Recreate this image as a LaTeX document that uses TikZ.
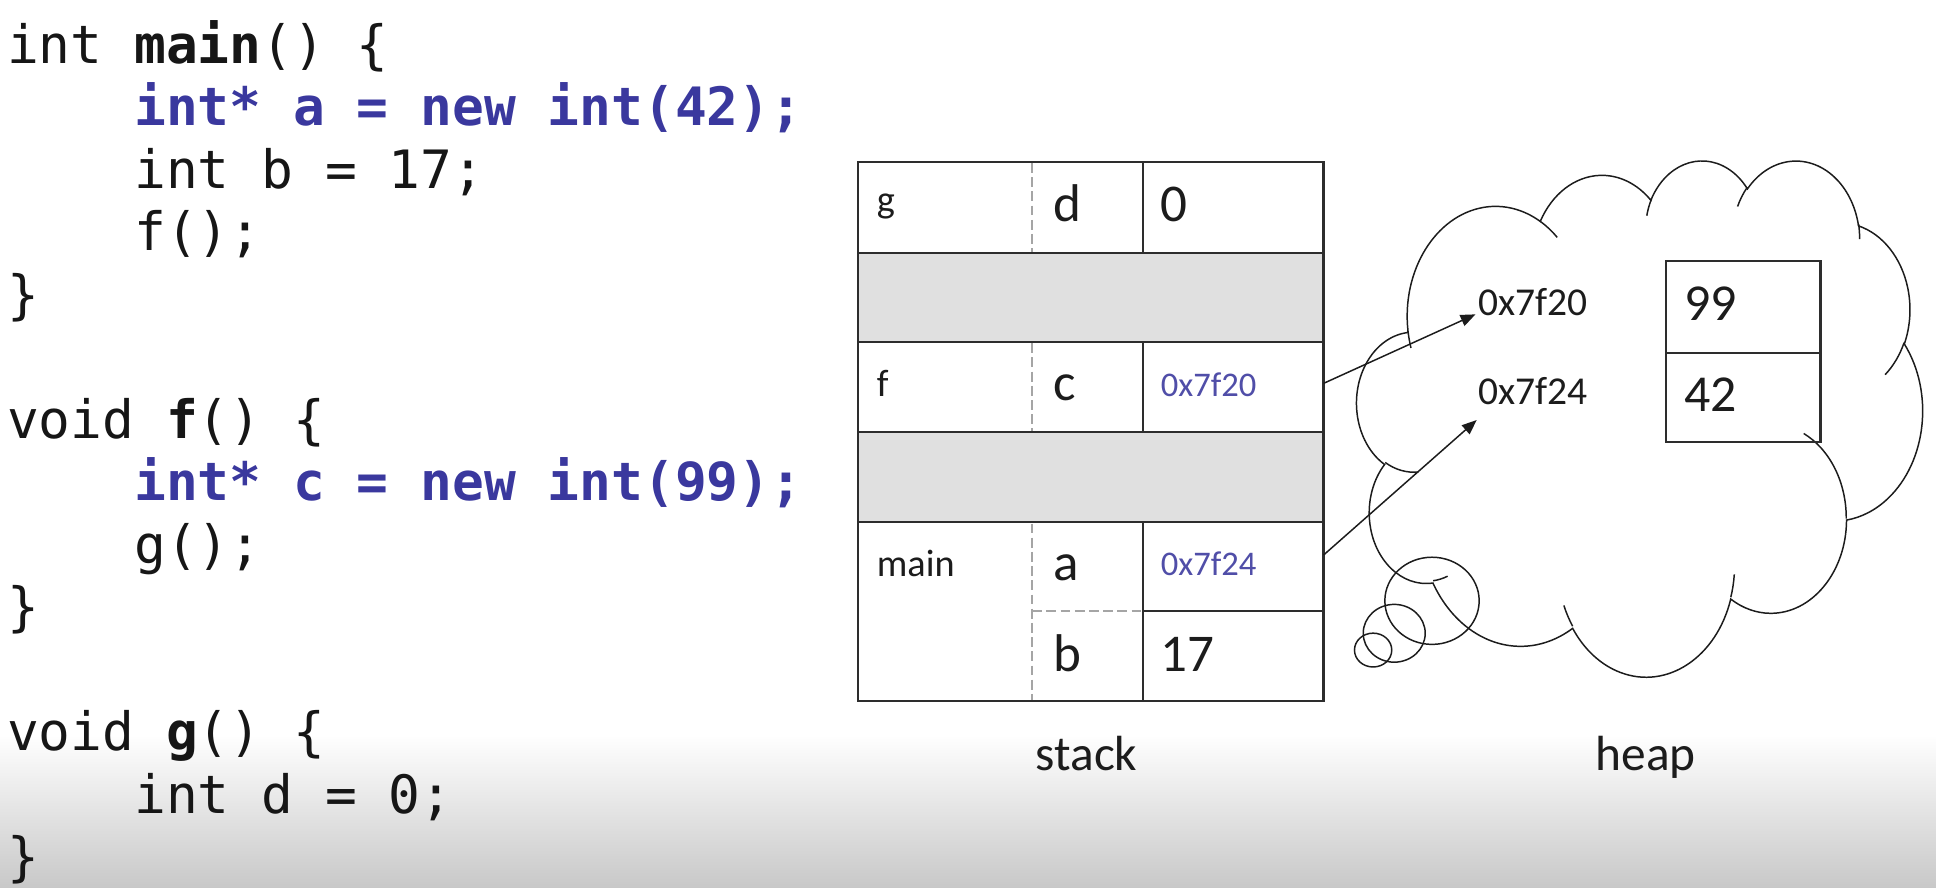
\documentclass[tikz,border=0pt]{standalone}
\usepackage{fontspec}
\newfontfamily\codefont{DejaVu Sans Mono}
\newfontfamily\calfont{Carlito}
\usetikzlibrary{arrows.meta}
\definecolor{codeblue}{RGB}{58,56,158}
\definecolor{codeblack}{RGB}{22,22,22}
\definecolor{addrblue}{RGB}{80,78,168}
\definecolor{inkc}{RGB}{28,28,28}
\definecolor{linec}{RGB}{45,45,45}
\definecolor{gapgray}{RGB}{224,224,224}
\definecolor{dashgray}{RGB}{165,165,165}
\definecolor{bgmid}{RGB}{240,240,240}
\definecolor{bgbot}{RGB}{200,200,200}
% cloud frame (OOXML cloud; coordinates given in units of 10 of the 43200 grid)
\def\cx{1099}\def\cy{129}\def\sx{0.106019}\def\sy{0.096759}
\newcommand\ooprep[5]{%
  \pgfmathsetmacro\ooA{atan2(#2*sin(#4),#3*cos(#4))}%
  \pgfmathsetmacro\ooB{atan2(#2*sin(#4+#5),#3*cos(#4+#5))}%
  \pgfmathsetmacro\ooD{0-Mod((\ooB)-(\ooA),360)}%
  \pgfmathsetmacro\ooS{0-(\ooA)}%
  \pgfmathsetmacro\ooRX{#2*\sx/10}%
  \pgfmathsetmacro\ooRY{#3*\sy/10}%
  \edef\ootmp{\noexpand\tikzset{oo#1/.style={start angle=\ooS,delta angle=\ooD,x radius=\ooRX pt,y radius=\ooRY pt}}}%
  \ootmp}
\ooprep{A}{6753}{9190}{-190.4875}{123.7805}
\ooprep{B}{5333}{7267}{-144.1024}{89.9452}
\ooprep{C}{4365}{5945}{-145.8079}{99.7230}
\ooprep{D}{4857}{6595}{-130.9861}{117.2417}
\ooprep{E}{5333}{7273}{-78.7089}{109.0269}
\ooprep{F}{6775}{9220}{-46.2673}{130.2690}
\ooprep{G}{5785}{7867}{0.6250}{114.0333}
\ooprep{H}{6752}{9215}{22.4516}{115.1726}
\ooprep{I}{7720}{10543}{66.2426}{75.7110}
\ooprep{J}{4360}{5918}{-274.9421}{146.7356}
\ooprep{K}{4345}{5945}{-246.8285}{152.5189}
\ooprep{a}{4345}{5945}{86.7420}{26.4295}
\ooprep{b}{4360}{5918}{73.6105}{11.4475}
\ooprep{c}{6752}{9215}{137.6242}{14.0811}
\ooprep{d}{6752}{9215}{6.4533}{15.9984}
\ooprep{e}{5785}{7867}{-70.2924}{70.9174}
\ooprep{f}{5333}{7273}{30.3180}{27.7515}
\ooprep{g}{4857}{6595}{-13.7443}{14.8589}
\ooprep{h}{4857}{6595}{-149.1815}{18.1954}
\ooprep{i}{4365}{5945}{-163.4943}{17.6864}
\ooprep{j}{6753}{9190}{-66.7070}{12.3194}
\ooprep{k}{6753}{9190}{157.6544}{11.8582}
\tikzset{
  code/.style={anchor=base west, inner sep=0pt, text=codeblack, font=\codefont\fontsize{42.8}{50}\selectfont},
  bcode/.style={code, text=codeblue, font=\codefont\bfseries\fontsize{42.8}{50}\selectfont},
  cellbox/.style={draw=linec, line width=1.8pt, inner sep=0pt, outer sep=0pt, anchor=north west},
  gapbox/.style={cellbox, fill=gapgray},
  txt/.style={anchor=base west, inner sep=0pt, text=inkc},
  bigtxt/.style={txt, font=\calfont\fontsize{43}{43}\selectfont},
  smalltxt/.style={txt, font=\calfont\fontsize{31}{31}\selectfont},
  saddr/.style={txt, text=addrblue, font=\calfont\fontsize{28}{28}\selectfont},
  haddr/.style={txt, font=\calfont\fontsize{32}{32}\selectfont},
  title/.style={anchor=base, inner sep=0pt, text=inkc, font=\calfont\fontsize{40}{40}\selectfont},
  dashline/.style={draw=dashgray, line width=1.4pt, dash pattern=on 8pt off 3.5pt},
  cloudline/.style={draw=inkc, line width=1.2pt},
  ptr/.style={draw=inkc, line width=1.2pt, -{Triangle[length=12pt,width=9.5pt]}}
}
\begin{document}
\begin{tikzpicture}[x=1pt,y=-1pt]
\useasboundingbox (0,0) rectangle (1568,719.2);
\fill[white] (0,0) rectangle (1568,719.2);
\shade[top color=white, middle color=bgmid, bottom color=bgbot] (0,595) rectangle (1568,719.2);

% ---- code ----
\node[code] (l0) at (5.5,51.4) {int \textbf{main}() \{};
\node[bcode] (l1) at (108.5,102) {int* a = new int(42);};
\node[code] (l2) at (108.5,152.6) {int b = 17;};
\node[code] (l3) at (108.5,203.2) {f();};
\node[code] (l4) at (5.5,253.8) {\}};
\node[code] (l6) at (5.5,355) {void \textbf{f}() \{};
\node[bcode] (l7) at (108.5,405.6) {int* c = new int(99);};
\node[code] (l8) at (108.5,456.2) {g();};
\node[code] (l9) at (5.5,506.8) {\}};
\node[code] (l11) at (5.5,608) {void \textbf{g}() \{};
\node[code] (l12) at (108.5,658.6) {int d = 0;};
\node[code] (l13) at (5.5,709.2) {\}};

% ---- stack ----
\node[gapbox, minimum width=377pt, minimum height=72pt] (gap1) at (695,205) {};
\node[gapbox, minimum width=377pt, minimum height=73pt] (gap2) at (695,350) {};
\node[cellbox, minimum width=377pt, minimum height=437pt] (stackbox) at (695,131) {};
\node[cellbox, minimum width=146pt, minimum height=74pt] (dval) at (926,131) {};
\node[cellbox, minimum width=146pt, minimum height=73pt] (cval) at (926,277) {};
\node[cellbox, minimum width=146pt, minimum height=72pt] (aval) at (926,423) {};
\node[cellbox, minimum width=146pt, minimum height=73pt] (bval) at (926,495) {};
\draw[dashline] (836,132) -- (836,204);
\draw[dashline] (836,278) -- (836,349);
\draw[dashline] (836,424) -- (836,567);
\draw[dashline] (836,495) -- (925,495);

\node[smalltxt] (gl) at (710,172) {g};
\node[bigtxt] (dl) at (853,179) {d};
\node[bigtxt] (dv) at (940,179) {0};
\node[smalltxt] (fl) at (710,321) {f};
\node[bigtxt] (cl) at (853,324) {c};
\node[saddr] (cv) at (940,321) {0x7f20};
\node[smalltxt] (ml) at (710,467) {main};
\node[bigtxt] (al) at (853,470) {a};
\node[saddr] (av) at (940,466) {0x7f24};
\node[bigtxt] (bl) at (853,544) {b};
\node[bigtxt] (bv) at (940,544) {17};

\node[title] (stacklbl) at (880,624) {stack};
\node[title] (heaplbl) at (1333,624) {heap};

% ---- heap cloud ----
\draw[cloudline] ({\cx+390*\sx},{\cy+1437*\sy})
  arc[ooA] arc[ooB] arc[ooC] arc[ooD] arc[ooE] arc[ooF]
  arc[ooG] arc[ooH] arc[ooI] arc[ooJ] arc[ooK] -- cycle;
\draw[cloudline] ({\cx+469.3*\sx},{\cy+2617.7*\sy}) arc[ooa];
\draw[cloudline] ({\cx+692.8*\sx},{\cy+3489.9*\sy}) arc[oob];
\draw[cloudline] ({\cx+1647.8*\sx},{\cy+3909.0*\sy}) arc[ooc];
\draw[cloudline] ({\cx+2882.7*\sx},{\cy+3475.1*\sy}) arc[ood];
\draw[cloudline] ({\cx+3412.9*\sx},{\cy+2295.4*\sy}) arc[ooe];
\draw[cloudline] ({\cx+4179.8*\sx},{\cy+1535.4*\sy}) arc[oof];
\draw[cloudline] ({\cx+3832.4*\sx},{\cy+542.6*\sy}) arc[oog];
\draw[cloudline] ({\cx+2907.8*\sx},{\cy+395.2*\sy}) arc[ooh];
\draw[cloudline] ({\cx+2214.1*\sx},{\cy+472.0*\sy}) arc[ooi];
\draw[cloudline] ({\cx+1400.0*\sx},{\cy+519.2*\sy}) arc[ooj];
\draw[cloudline] ({\cx+412.7*\sx},{\cy+1578.9*\sy}) arc[ook];
\draw[cloudline] (1159.8,486.6) ellipse [x radius=38.2pt, y radius=35.3pt];
\draw[cloudline] (1129.2,512.9) ellipse [x radius=25.1pt, y radius=23.4pt];
\draw[cloudline] (1112.1,526.5) ellipse [x radius=15.1pt, y radius=13.7pt];

\node[cellbox, minimum width=125.5pt, minimum height=74.5pt] (h99) at (1349,211.5) {};
\node[cellbox, minimum width=125.5pt, minimum height=72pt] (h42) at (1349,286) {};
\node[txt, font=\calfont\fontsize{42}{42}\selectfont] (t99) at (1364,259.5) {99};
\node[txt, font=\calfont\fontsize{42}{42}\selectfont] (t42) at (1364,333.3) {42};
\node[haddr] (ha20) at (1197,255.2) {0x7f20};
\node[haddr] (ha24) at (1197,328) {0x7f24};

\coordinate (tip20) at (1195,254.6);
\coordinate (tip24) at (1196,340.2);
\draw[ptr] ([yshift=3pt]cval.east) -- (tip20);
\draw[ptr] ([yshift=9.5pt]aval.east) -- (tip24);
\end{tikzpicture}
\end{document}
